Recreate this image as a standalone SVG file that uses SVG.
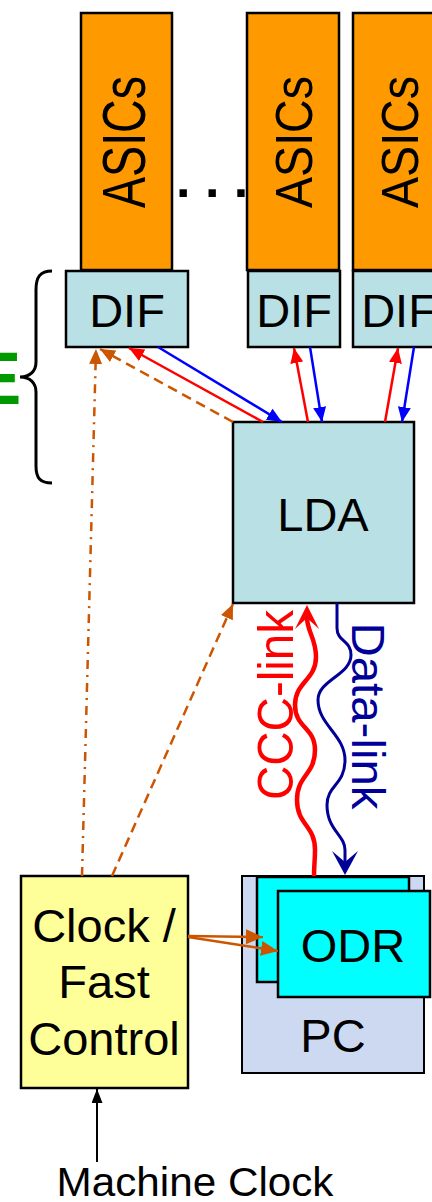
<svg xmlns="http://www.w3.org/2000/svg" width="432" height="1202" viewBox="0 0 432 1202">
<defs>
<style>
text{font-family:"Liberation Sans",Arial,sans-serif;fill:#000}
.box{stroke:#000;stroke-width:2.5}
.asic{fill:#ff9900}
.lt{fill:#b9e0e4}
.t46{font-size:47px;text-anchor:middle}
.red{stroke:#ff0000;stroke-width:2.5;fill:none}
.blue{stroke:#0000ff;stroke-width:2.5;fill:none}
.org{stroke:#cc5500;stroke-width:2.5;fill:none}
</style>
<marker id="aR" markerUnits="userSpaceOnUse" markerWidth="15" markerHeight="13" refX="15" refY="6.5" orient="auto"><path d="M0,0L15,6.5L0,13z" fill="#ff0000"/></marker>
<marker id="aB" markerUnits="userSpaceOnUse" markerWidth="15" markerHeight="13" refX="15" refY="6.5" orient="auto"><path d="M0,0L15,6.5L0,13z" fill="#0000ff"/></marker>
<marker id="aO" markerUnits="userSpaceOnUse" markerWidth="15" markerHeight="13" refX="15" refY="6.5" orient="auto"><path d="M0,0L15,6.5L0,13z" fill="#cc5500"/></marker>
<marker id="aO2" markerUnits="userSpaceOnUse" markerWidth="17" markerHeight="15" refX="17" refY="7.5" orient="auto"><path d="M0,0L17,7.5L0,15z" fill="#cc5500"/></marker>
<marker id="aK" markerUnits="userSpaceOnUse" markerWidth="14" markerHeight="11" refX="14" refY="5.5" orient="auto"><path d="M0,0L14,5.5L0,11z" fill="#000"/></marker>
<marker id="wR" markerUnits="userSpaceOnUse" markerWidth="24" markerHeight="24" refX="12" refY="12" orient="auto"><path d="M0,0L24,12L0,24L11,12z" fill="#ff0000"/></marker>
<marker id="wN" markerUnits="userSpaceOnUse" markerWidth="24" markerHeight="26" refX="12" refY="13" orient="auto"><path d="M0,0L24,13L0,26L11,13z" fill="#000099"/></marker>
</defs>
<rect width="432" height="1202" fill="#fff"/>

<g id="asics1"><rect class="box asic" x="81" y="13" width="91" height="257"/><text transform="translate(145,142) rotate(-90)" font-size="62" text-anchor="middle" textLength="132" lengthAdjust="spacingAndGlyphs">ASICs</text></g>
<g id="asics2"><rect class="box asic" x="247" y="13" width="92" height="257"/><text transform="translate(312,142) rotate(-90)" font-size="51" text-anchor="middle" textLength="132" lengthAdjust="spacingAndGlyphs">ASICs</text></g>
<g id="asics3"><rect class="box asic" x="353" y="13" width="92" height="257"/><text transform="translate(418,142) rotate(-90)" font-size="51" text-anchor="middle" textLength="132" lengthAdjust="spacingAndGlyphs">ASICs</text></g>
<g id="dots"><text x="176" y="197" font-size="52" font-weight="bold">. . .</text></g>

<g id="dif1"><rect class="box lt" x="66" y="271" width="122" height="76"/><text class="t46" x="127" y="327">DIF</text></g>
<g id="dif2"><rect class="box lt" x="248" y="271" width="92" height="76"/><text class="t46" x="294" y="327">DIF</text></g>
<g id="dif3"><rect class="box lt" x="353" y="271" width="92" height="76"/><text class="t46" x="399" y="327">DIF</text></g>

<g id="brace"><path d="M52,271 C40,271 36,277 36,290 L36,362 C36,371 30,377 20,377 C30,377 36,383 36,392 L36,466 C36,478 40,483 52,483" fill="none" stroke="#000" stroke-width="3"/></g>
<g id="label-e"><text x="-28" y="404" font-size="74" font-weight="bold" style="fill:#009900">E</text></g>

<g id="lda"><rect class="box lt" x="233" y="422" width="181" height="181"/><text x="323" y="531" font-size="47" text-anchor="middle">LDA</text></g>

<g id="clock"><rect class="box" fill="#ffff99" x="21" y="876" width="167" height="212"/>
<text class="t46" x="104" y="942">Clock /</text><text class="t46" x="104" y="998">Fast</text><text class="t46" x="104" y="1055">Control</text></g>

<g id="pc"><rect fill="#ccd9f0" stroke="#000" stroke-width="2" x="242" y="876" width="182" height="197"/><text class="t46" x="333" y="1052">PC</text></g>
<g id="odr-back"><rect class="box" fill="#00ffff" x="257" y="877" width="152" height="105"/></g>
<g id="odr"><rect class="box" fill="#00ffff" x="278" y="891" width="152" height="106"/><text class="t46" x="353" y="962">ODR</text></g>

<g id="connectors">
<line class="blue" x1="158" y1="347" x2="282" y2="422" marker-end="url(#aB)"/>
<line class="red" x1="263" y1="422" x2="129" y2="348" marker-end="url(#aR)"/>
<line class="org" x1="233" y1="422" x2="100" y2="349" stroke-dasharray="10,6" marker-end="url(#aO)"/>
<line class="org" x1="82" y1="876" x2="96" y2="349" stroke-dasharray="9,6,2,6" marker-end="url(#aO)"/>
<line class="org" x1="112" y1="876" x2="233" y2="604" stroke-dasharray="10,6" marker-end="url(#aO)"/>
<line class="red" x1="308" y1="422" x2="294" y2="348" marker-end="url(#aR)"/>
<line class="blue" x1="310" y1="347" x2="322" y2="422" marker-end="url(#aB)"/>
<line class="red" x1="385" y1="422" x2="398" y2="348" marker-end="url(#aR)"/>
<line class="blue" x1="414" y1="347" x2="402" y2="422" marker-end="url(#aB)"/>
<path d="M314,876 C314,866 315,860 315,850 C315,825 297,825 297,800 C297,775 315,775 315,750 C315,727 295,728 295,705 C295,682 316,680 316,657 C316,638 307,632 307,617" fill="none" stroke="#ff0000" stroke-width="4.5" marker-end="url(#wR)"/>
<path d="M337,603 L337,628 C337,642 351,640 351,655 C351,675 318,680 318,700 C318,725 345,735 345,760 C345,785 327,785 327,805 C327,830 345,835 345,850 L345,863" fill="none" stroke="#000099" stroke-width="3" marker-end="url(#wN)"/>
<line class="org" stroke-width="3.5" x1="188" y1="936" x2="263" y2="937" marker-end="url(#aO2)"/>
<line class="org" stroke-width="3.5" x1="188" y1="937" x2="278" y2="951" marker-end="url(#aO2)"/>
<line x1="97" y1="1162" x2="97" y2="1089" stroke="#000" stroke-width="2" marker-end="url(#aK)"/>
</g>

<g id="link-labels">
<text transform="translate(293,705) rotate(-90)" font-size="50" text-anchor="middle" textLength="190" lengthAdjust="spacingAndGlyphs" style="fill:#ff0000">CCC-link</text>
<text transform="translate(352,716) rotate(90)" font-size="47" text-anchor="middle" textLength="187" lengthAdjust="spacingAndGlyphs" style="fill:#000099">Data-link</text>
</g>
<g id="machine-clock"><text x="195" y="1196" font-size="41" text-anchor="middle" textLength="277" lengthAdjust="spacingAndGlyphs">Machine Clock</text></g>
</svg>
